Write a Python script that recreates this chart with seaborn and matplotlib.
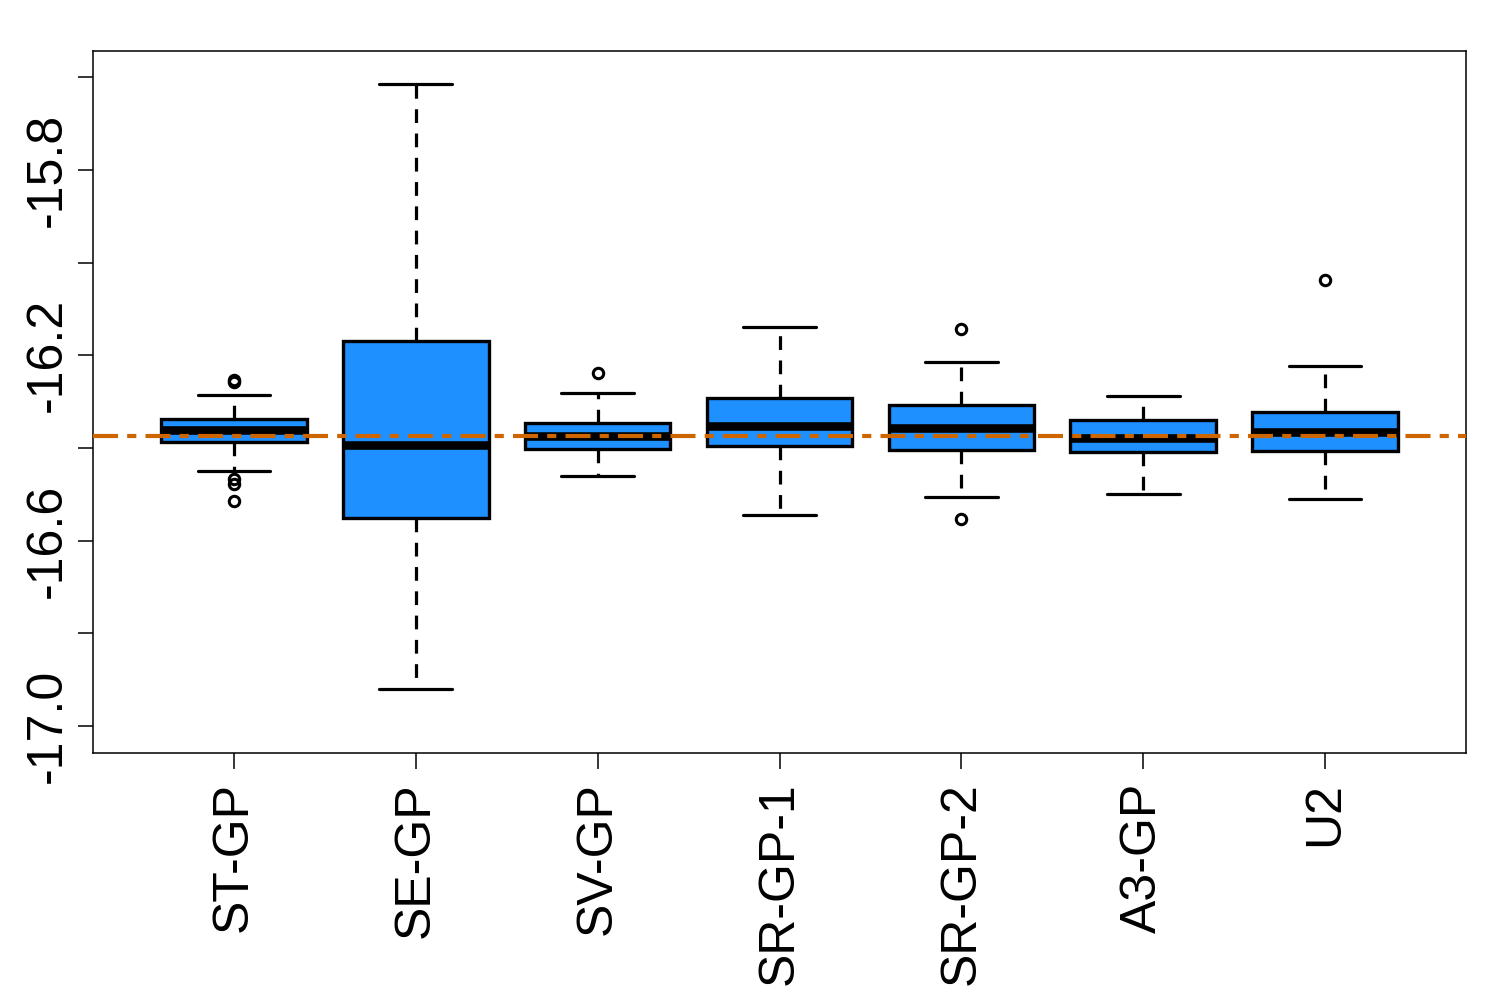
import numpy as np
import pandas as pd
import matplotlib
matplotlib.use("Agg")
import matplotlib.pyplot as plt
import seaborn as sns

# ---- data ----
categories = ["ST-GP", "SE-GP", "SV-GP", "SR-GP-1", "SR-GP-2", "A3-GP", "U2"]
whisker_low = [-16.450, -16.920, -16.460, -16.545, -16.506, -16.499, -16.510]
q1 = [-16.387, -16.551, -16.402, -16.396, -16.404, -16.409, -16.407]
median = [-16.361, -16.394, -16.374, -16.353, -16.357, -16.378, -16.366]
q3 = [-16.337, -16.169, -16.346, -16.292, -16.307, -16.340, -16.322]
whisker_high = [-16.286, -15.614, -16.281, -16.139, -16.214, -16.288, -16.223]
outliers_low = [[-16.466, -16.478, -16.514], [], [], [], [-16.553], [], []]
outliers_high = [[-16.252, -16.258], [], [-16.238], [], [-16.143], [], [-16.037]]
reference_value = -16.374
y_ticks = [-17.0, -16.8, -16.6, -16.4, -16.2, -16.0, -15.8, -15.6]
y_tick_labels = ["-17.0", "", "-16.6", "", "-16.2", "", "-15.8", ""]

# ---- long-form table whose box statistics reproduce the summaries ----
rows = []
for i, cat in enumerate(categories):
    vals = (list(outliers_low[i]) + [whisker_low[i]] + [q1[i]] * 10
            + [median[i]] * 10 + [q3[i]] * 10 + [whisker_high[i]]
            + list(outliers_high[i]))
    rows += [(cat, v) for v in vals]
df = pd.DataFrame(rows, columns=["method", "value"])

sns.set_theme(style="white")
plt.rcParams["font.family"] = ["Liberation Sans", "DejaVu Sans"]
plt.rcParams["axes.unicode_minus"] = False
plt.rcParams["text.color"] = "black"
plt.rcParams["xtick.color"] = "black"
plt.rcParams["ytick.color"] = "black"
plt.rcParams["axes.edgecolor"] = "black"

fig = plt.figure(figsize=(15, 10), dpi=100)
ax = fig.add_axes([93 / 1500, 247 / 1000, 1373 / 1500, 702 / 1000])

sns.boxplot(
    data=df, x="method", y="value", order=categories, ax=ax,
    color="#1E90FF", saturation=1, width=0.8, whis=1.5,
    linecolor="black", linewidth=2.4,
    medianprops=dict(color="black", linewidth=6.2, solid_capstyle="butt"),
    whiskerprops=dict(color="black", linewidth=2.3, linestyle=(0, (4.3, 3.3))),
    capprops=dict(color="black", linewidth=2.3),
    flierprops=dict(marker="o", markerfacecolor="none", markeredgecolor="black",
                    markersize=7.5, markeredgewidth=2.2),
)

ax.axhline(reference_value, color="#CD6600", linewidth=3,
           linestyle=(0, (6, 2.2, 2.2, 2.2)), zorder=10, dash_capstyle="butt")

ax.set_xlim(-0.775, 6.775)
ax.set_ylim(-17.058, -15.543)
ax.set_xlabel("")
ax.set_ylabel("")

ax.set_yticks(y_ticks)
ax.set_yticklabels(y_tick_labels, rotation=90, va="center", fontsize=36,
                   color="black")
ax.set_xticks(range(len(categories)))
ax.set_xticklabels(categories, rotation=90, ha="center", va="top", fontsize=36,
                   color="black")
ax.tick_params(axis="y", direction="out", length=10.8, width=1.1, color="black",
               pad=5.4, left=True)
ax.tick_params(axis="x", direction="out", length=11.5, width=1.1, color="black",
               pad=9.7, bottom=True)
for s in ax.spines.values():
    s.set_visible(True)
    s.set_color("black")
    s.set_linewidth(1.1)
ax.grid(False)

fig.savefig("out.png", dpi=100, facecolor="white")
